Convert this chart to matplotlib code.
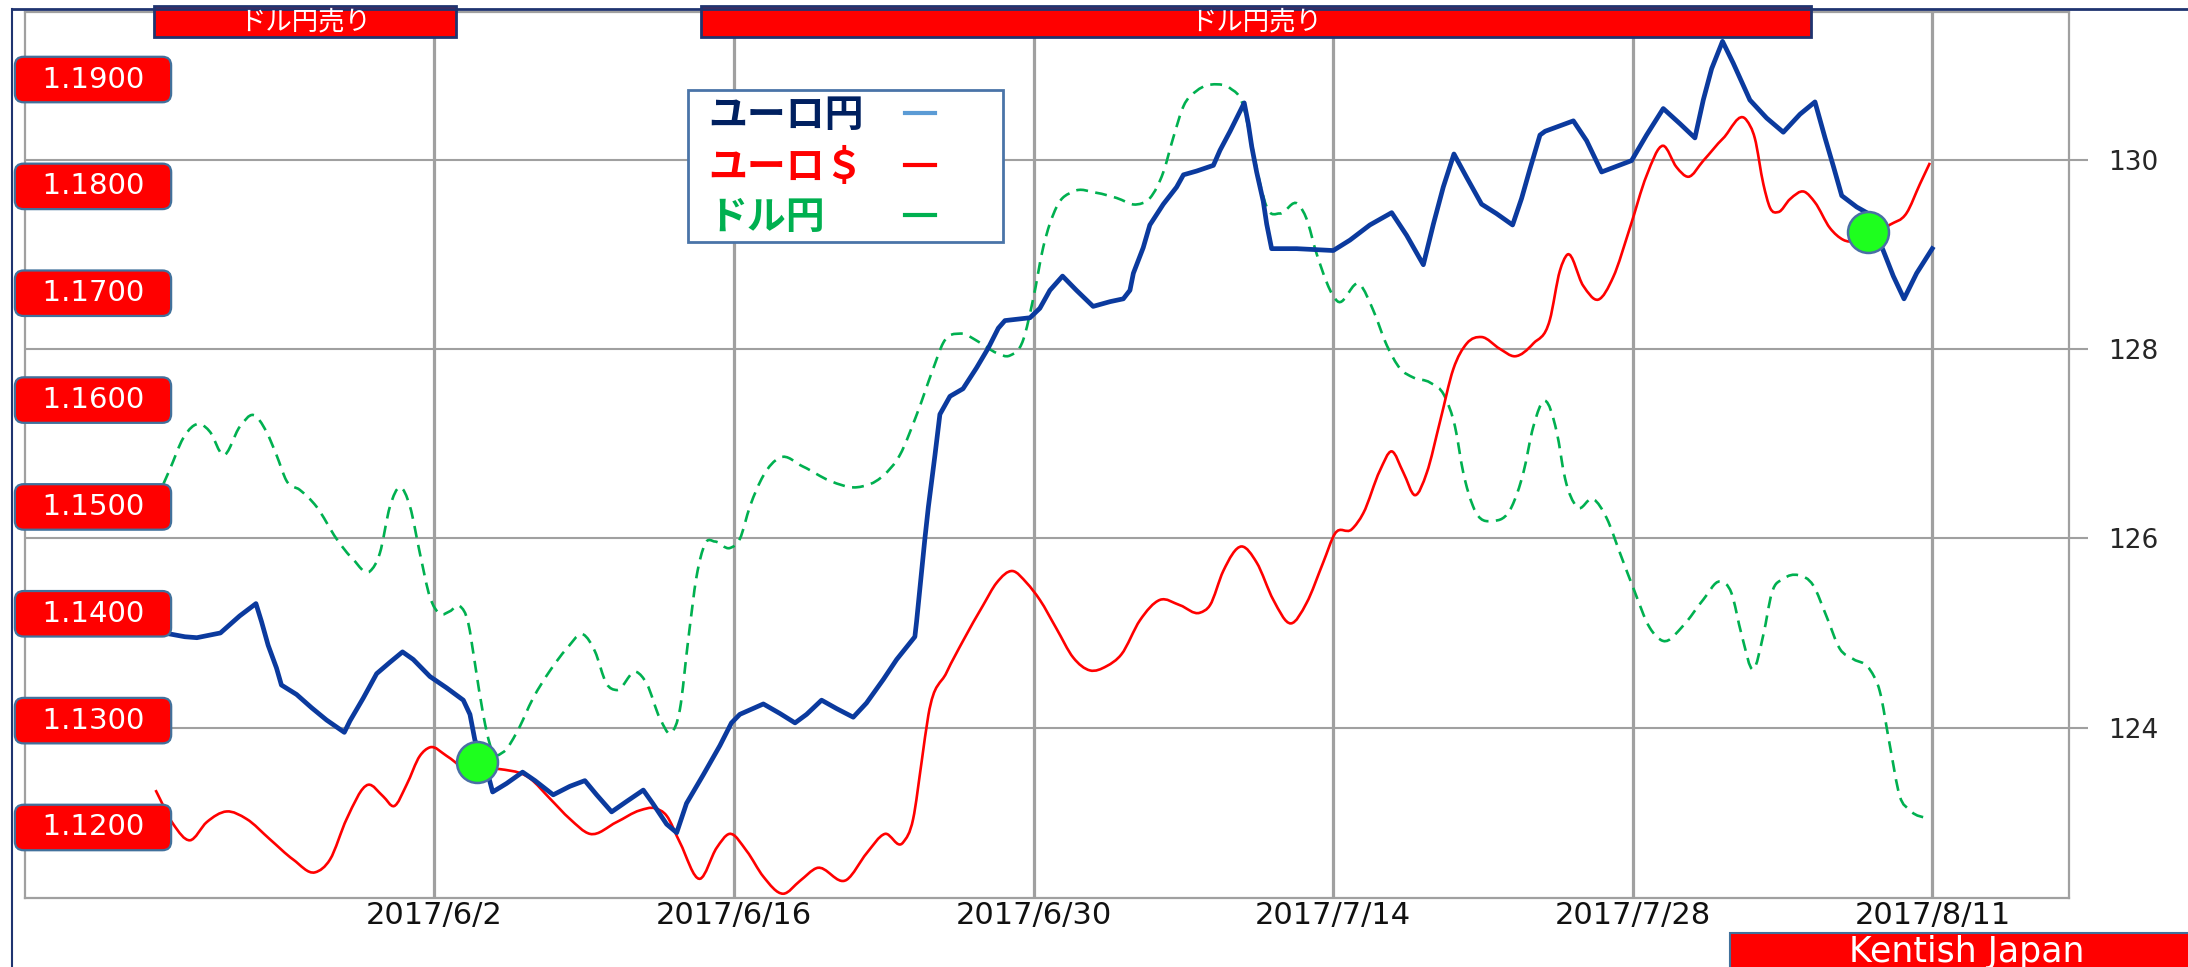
import numpy as np
import matplotlib
matplotlib.use('Agg')
import matplotlib.pyplot as plt
import matplotlib.dates as mdates
from matplotlib.path import Path
from matplotlib.patches import PathPatch, Rectangle
from matplotlib.lines import Line2D
from matplotlib.transforms import blended_transform_factory

plt.rcParams['font.family'] = ['DejaVu Sans', 'Noto Sans CJK JP']
JP = ['Noto Sans CJK JP', 'DejaVu Sans']

# ---- data (x = days from BASE_DATE) ----
BASE_DATE = '2017-06-02'

# ユーロ円 (EUR/JPY, right axis)
eurjpy_days = [-13.1, -11.66, -11.1, -10.0, -9.55, -9.1, -8.34, -8.08, -7.77, -7.38,
               -7.15, -6.44, -5.74, -5.04, -4.21, -3.95, -3.33, -2.7, -2.08, -1.49,
               -0.99, -0.21, 0.57, 1.35, 1.66, 1.89, 2.51, 2.72, 3.37, 4.12,
               4.7, 5.55, 6.33, 7.03, 7.58, 8.28, 8.98, 9.76, 10.2, 10.85,
               11.32, 11.78, 12.56, 13.34, 13.88, 14.27, 15.37, 16.14, 16.85, 17.39,
               18.09, 18.8, 19.57, 20.19, 20.98, 21.6, 22.45, 22.53, 22.77, 22.92,
               23.08, 23.39, 23.62, 24.09, 24.7, 25.33, 25.88, 26.35, 26.66, 27.83,
               28.29, 28.76, 29.35, 30.0, 30.78, 31.57, 32.19, 32.5, 32.66, 33.12,
               33.43, 34.06, 34.68, 35.0, 35.62, 36.4, 36.71, 37.18, 37.64, 37.84,
               38.03, 38.19, 38.42, 38.73, 38.89, 39.12, 40.29, 42.0, 42.78, 43.71,
               44.73, 45.43, 46.21, 46.68, 47.14, 47.64, 48.24, 48.93, 49.63, 50.38,
               50.8, 51.19, 51.66, 51.9, 53.22, 53.84, 54.54, 55.24, 55.94, 56.64,
               57.42, 58.2, 58.9, 59.29, 59.68, 60.19, 60.69, 61.47, 62.25, 63.03,
               63.81, 64.51, 64.98, 65.37, 65.76, 66.46, 66.93, 67.7, 68.17, 68.67,
               69.26, 69.99]
eurjpy = [125.02, 124.96, 124.95, 125.0, 125.09, 125.18, 125.31, 125.12, 124.87, 124.63,
          124.45, 124.35, 124.21, 124.08, 123.95, 124.07, 124.31, 124.57, 124.69, 124.8,
          124.72, 124.54, 124.42, 124.29, 124.14, 123.87, 123.5, 123.32, 123.41, 123.53,
          123.44, 123.29, 123.38, 123.44, 123.29, 123.11, 123.22, 123.34, 123.2, 122.98,
          122.89, 123.2, 123.5, 123.81, 124.05, 124.14, 124.25, 124.15, 124.05, 124.14,
          124.29, 124.2, 124.11, 124.26, 124.51, 124.72, 124.96, 125.12, 125.66, 126.0,
          126.33, 126.88, 127.31, 127.5, 127.58, 127.8, 128.01, 128.22, 128.3, 128.33,
          128.43, 128.62, 128.77, 128.62, 128.45, 128.5, 128.53, 128.62, 128.8, 129.07,
          129.31, 129.53, 129.71, 129.84, 129.88, 129.94, 130.1, 130.3, 130.51, 130.6,
          130.38, 130.14, 129.87, 129.56, 129.32, 129.06, 129.06, 129.04, 129.15, 129.31,
          129.44, 129.2, 128.89, 129.32, 129.71, 130.06, 129.81, 129.53, 129.43, 129.31,
          129.59, 129.9, 130.26, 130.3, 130.41, 130.2, 129.87, 129.93, 129.99, 130.26,
          130.54, 130.38, 130.23, 130.63, 130.96, 131.25, 131.02, 130.63, 130.44, 130.29,
          130.48, 130.61, 130.23, 129.93, 129.62, 129.5, 129.44, 129.04, 128.77, 128.53,
          128.8, 129.06]

# ユーロ＄ (EUR/USD, left axis)
eurusd_days = [-13.03, -12.2, -11.43, -10.64, -9.71, -8.78, -7.69, -6.6, -5.58, -4.88,
               -4.1, -3.09, -2.39, -1.89, -1.3, -0.68, -0.21, 0.57, 1.35, 2.9,
               4.46, 5.4, 6.33, 7.27, 8.51, 9.6, 10.3, 10.85, 11.47, 12.41,
               13.19, 13.78, 14.59, 15.37, 16.3, 17.08, 17.86, 19.26, 20.2, 21.05,
               21.9, 22.37, 22.77, 23.08, 23.93, 24.71, 25.64, 26.27, 27.02, 27.67,
               28.29, 29.07, 29.85, 30.63, 31.41, 32.1, 32.97, 33.9, 34.84, 35.77,
               36.24, 36.86, 37.72, 38.42, 39.2, 40.02, 40.75, 41.53, 42.08, 42.86,
               43.4, 44.18, 44.73, 45.28, 45.82, 46.37, 46.99, 47.61, 48.24, 48.93,
               49.78, 50.49, 51.35, 52.12, 52.59, 52.93, 53.68, 54.38, 55.08, 55.86,
               56.64, 57.42, 58.04, 58.59, 59.29, 60.22, 61.31, 61.7, 62.1, 62.41,
               62.8, 63.34, 64.01, 64.51, 65.21, 65.83, 66.9, 68.0, 68.79, 69.41,
               69.88]
eurusd = [1.1235, 1.1203, 1.1188, 1.1205, 1.1215, 1.1208, 1.1189, 1.1170, 1.1158, 1.1170,
          1.1208, 1.1240, 1.1229, 1.1220, 1.1240, 1.1267, 1.1275, 1.1267, 1.1256, 1.1255,
          1.1246, 1.1227, 1.1208, 1.1194, 1.1205, 1.1216, 1.1218, 1.1211, 1.1186, 1.1152,
          1.1181, 1.1194, 1.1178, 1.1154, 1.1138, 1.1150, 1.1162, 1.1151, 1.1176, 1.1194,
          1.1186, 1.1208, 1.1262, 1.1305, 1.1345, 1.1375, 1.1408, 1.1429, 1.1440, 1.1429,
          1.1413, 1.1386, 1.1359, 1.1347, 1.1351, 1.1362, 1.1394, 1.1413, 1.1408, 1.1401,
          1.1408, 1.1440, 1.1463, 1.1448, 1.1413, 1.1391, 1.1410, 1.1448, 1.1475, 1.1479,
          1.1494, 1.1534, 1.1552, 1.1532, 1.1511, 1.1532, 1.1580, 1.1629, 1.1653, 1.1659,
          1.1648, 1.1641, 1.1653, 1.1675, 1.1721, 1.1736, 1.1707, 1.1694, 1.1715, 1.1761,
          1.1810, 1.1838, 1.1818, 1.1809, 1.1824, 1.1845, 1.1862, 1.1845, 1.1802, 1.1780,
          1.1776, 1.1788, 1.1795, 1.1785, 1.1761, 1.1750, 1.1752, 1.1764, 1.1775, 1.1802,
          1.1822]

# ドル円 (USD/JPY, own hidden scale)
usdjpy_days = [-13.03, -12.36, -11.74, -10.96, -10.49, -9.87, -9.09, -8.47, -7.85, -7.38,
               -6.91, -6.29, -5.51, -4.57, -3.79, -3.01, -2.55, -2.08, -1.61, -1.14,
               -0.68, -0.21, 0.26, 0.72, 1.19, 1.58, 1.89, 2.28, 2.67, 3.22,
               3.84, 4.62, 5.4, 6.18, 6.96, 7.5, 8.04, 8.51, 9.45, 9.92,
               10.54, 11.08, 11.47, 11.86, 12.25, 12.64, 13.11, 13.81, 14.27, 14.74,
               15.37, 16.14, 17.23, 18.48, 19.73, 20.97, 21.75, 22.53, 23.31, 23.78,
               24.56, 25.49, 26.27, 26.89, 27.51, 27.98, 28.45, 29.07, 29.85, 30.94,
               31.88, 32.81, 33.44, 34.06, 34.53, 35.0, 35.62, 36.55, 37.18, 37.8,
               38.19, 38.58, 38.89, 39.51, 40.37, 40.75, 41.22, 42.2, 43.25, 43.87,
               44.5, 45.12, 45.74, 46.53, 47.22, 47.69, 48.08, 48.54, 49.48, 50.34,
               50.88, 51.35, 51.9, 52.44, 52.83, 53.37, 54.15, 54.78, 55.4, 56.02,
               56.8, 57.42, 58.36, 59.29, 60.07, 60.61, 61.08, 61.63, 62.1, 62.49,
               63.03, 63.73, 64.43, 65.05, 65.67, 66.3, 67.07, 67.54, 68.0, 68.47,
               68.94, 69.88]
usdjpy = [111.07, 111.32, 111.56, 111.67, 111.61, 111.43, 111.65, 111.74, 111.61, 111.43,
          111.23, 111.16, 111.03, 110.78, 110.62, 110.53, 110.67, 111.03, 111.18, 111.03,
          110.67, 110.33, 110.2, 110.22, 110.26, 110.13, 109.82, 109.42, 109.15, 109.13,
          109.28, 109.55, 109.76, 109.93, 110.04, 109.91, 109.66, 109.61, 109.75, 109.66,
          109.39, 109.28, 109.46, 110.0, 110.49, 110.74, 110.76, 110.71, 110.78, 111.03,
          111.27, 111.41, 111.34, 111.23, 111.18, 111.27, 111.43, 111.74, 112.1, 112.3,
          112.37, 112.3, 112.22, 112.2, 112.32, 112.64, 113.04, 113.35, 113.47, 113.46,
          113.42, 113.37, 113.42, 113.62, 113.89, 114.13, 114.25, 114.3, 114.27, 114.13,
          113.84, 113.53, 113.35, 113.3, 113.37, 113.26, 112.99, 112.62, 112.75, 112.55,
          112.28, 112.1, 112.03, 111.99, 111.88, 111.65, 111.29, 111.03, 110.92, 111.03,
          111.29, 111.65, 111.85, 111.61, 111.25, 111.03, 111.09, 110.94, 110.67, 110.4,
          110.09, 109.99, 110.11, 110.31, 110.45, 110.36, 110.04, 109.77, 110.04, 110.36,
          110.47, 110.5, 110.42, 110.18, 109.93, 109.85, 109.77, 109.6, 109.19, 108.79,
          108.68, 108.61]

# crossover signals on ユーロ円
signal_days = [1.99, 66.99]
signal_eurjpy = [123.64, 129.24]

# ドル円売り periods (days from BASE_DATE)
sell_starts = [-13.1, 12.45]
sell_ends = [1.0, 64.32]
sell_label = 'ドル円売り'

tick_dates = ['2017-06-02', '2017-06-16', '2017-06-30', '2017-07-14', '2017-07-28', '2017-08-11']
eurjpy_ticks = [124, 126, 128, 130]
eurusd_ticks = [1.12, 1.13, 1.14, 1.15, 1.16, 1.17, 1.18, 1.19]
legend_labels = ['ユーロ円', 'ユーロ＄', 'ドル円']
legend_text_colors = ['#002060', '#FF0000', '#00B050']
legend_line_colors = ['#5B9BD5', '#FF0000', '#00B050']
credit = 'Kentish Japan'

# ---- helpers ----
W, H = 2188, 967


def fx(px):
    return px / W


def fy(py):
    return 1 - py / H


def smooth_path(x, y):
    """Cubic Hermite -> Bezier path through the points (smoothed line)."""
    x = np.asarray(x, float)
    y = np.asarray(y, float)
    m = np.gradient(y, x)
    verts = [(x[0], y[0])]
    codes = [Path.MOVETO]
    for i in range(len(x) - 1):
        h = (x[i + 1] - x[i]) / 3
        verts += [(x[i] + h, y[i] + m[i] * h),
                  (x[i + 1] - h, y[i + 1] - m[i + 1] * h),
                  (x[i + 1], y[i + 1])]
        codes += [Path.CURVE4] * 3
    return Path(verts, codes)


base = mdates.datestr2num(BASE_DATE)
x_ej = base + np.array(eurjpy_days)
x_eu = base + np.array(eurusd_days)
x_uj = base + np.array(usdjpy_days)
x_sig = base + np.array(signal_days)
x_ticks = mdates.datestr2num(tick_dates)
tick_labels = []
for d in tick_dates:
    t = np.datetime64(d).astype(object)
    tick_labels.append(f'{t.year}/{t.month}/{t.day}')

GRID = '#A0A0A0'

fig = plt.figure(figsize=(W / 100, H / 100), dpi=100)
ax = fig.add_axes([fx(24.6), fy(898), fx(2069) - fx(24.6), fy(12) - fy(898)])
ax.set_xlim(base - 19.15, base + 76.38)
ax.set_ylim(122.20, 131.56)
ax.set_axisbelow(True)

# hidden scales for the other series (twinx moves ax's ticks left, so style ax after)
ax_uj = ax.twinx()
ax_uj.set_ylim(108.0, 114.86)
ax_uj.axis('off')
ax_eu = ax.twinx()
ax_eu.set_ylim(1.1134, 1.19632)
ax_eu.axis('off')
ax_ej = ax.twinx()
ax_ej.set_ylim(ax.get_ylim())
ax_ej.axis('off')

ax.set_xticks(x_ticks)
ax.set_xticklabels(tick_labels, fontsize=22, color='#111111')
ax.tick_params(axis='x', length=0, pad=2)
ax.xaxis.grid(True, color=GRID, lw=2.3)

ax.yaxis.tick_right()
ax.set_yticks(eurjpy_ticks)
ax.set_yticklabels([str(v) for v in eurjpy_ticks])
ax.tick_params(axis='y', left=False, labelleft=False, right=True, labelright=True,
               length=14, width=1.5, color=GRID, pad=14, labelsize=19,
               labelcolor='#262626')
ax.yaxis.grid(True, color=GRID, lw=1.5)
for sp in ax.spines.values():
    sp.set_color(GRID)
    sp.set_linewidth(1.6)

ax_uj.add_patch(PathPatch(smooth_path(x_uj, usdjpy), fill=False, ec='#00B050',
                          lw=1.9, linestyle=(0, (4.5, 2.8))))
ax_eu.add_patch(PathPatch(smooth_path(x_eu, eurusd), fill=False, ec='#FF0000', lw=1.9))
ax_ej.plot(x_ej, eurjpy, color='#0B3A9E', lw=3.4)
ax_ej.plot(x_sig, signal_eurjpy, 'o', ms=29.5, mfc='#1EFF1E', mec='#4A6FA5', mew=1.8,
           zorder=5)

# left-axis value boxes (ユーロ＄ scale)
lab_tr = blended_transform_factory(fig.transFigure, ax_eu.transData)
for v in eurusd_ticks:
    fig.text(fx(93), v, f'  {v:.4f}  ', transform=lab_tr, ha='center', va='center',
             fontsize=21, color='white',
             bbox=dict(boxstyle='round,pad=0.3', fc='#FF0000', ec='#41719C', lw=1.6))

# ドル円売り banners
ban_tr = blended_transform_factory(ax.transData, fig.transFigure)
for s, e in zip(sell_starts, sell_ends):
    fig.add_artist(Rectangle((base + s, fy(37)), e - s, fy(6) - fy(37), transform=ban_tr,
                             fc='#FF0000', ec='#1F3470', lw=2))
    fig.text(base + (s + e) / 2, fy(22), sell_label, transform=ban_tr, ha='center',
             va='center', fontsize=19, color='white', family=JP)

# legend
fig.add_artist(Rectangle((fx(688), fy(242)), fx(1003) - fx(688), fy(90) - fy(242),
                         transform=fig.transFigure, fc='white', ec='#4A74A8', lw=2))
for i, (lab, tc, lc) in enumerate(zip(legend_labels, legend_text_colors, legend_line_colors)):
    yc = [115, 167, 217][i]
    fig.text(fx(708), fy(yc), lab, ha='left', va='center', fontsize=28, weight='bold',
             color=tc, family=JP)
    fig.add_artist(Line2D([fx(905), fx(935)], [fy(yc - 2)] * 2, color=lc, lw=3,
                          transform=fig.transFigure))

# credit box
fig.add_artist(Rectangle((fx(1730), fy(1000)), fx(2200) - fx(1730), fy(933) - fy(1000),
                         transform=fig.transFigure, fc='#FF0000', ec='#41719C', lw=1.5))
fig.text(fx(1967), fy(962), credit, ha='center', va='baseline', fontsize=25, color='white')

# outer frame lines
fig.add_artist(Line2D([fx(12), fx(12)], [0, fy(9)], color='#1F3470', lw=1.5))
fig.add_artist(Line2D([fx(12), 1], [fy(9), fy(9)], color='#1F3470', lw=2))

fig.savefig('out.png', dpi=100)
